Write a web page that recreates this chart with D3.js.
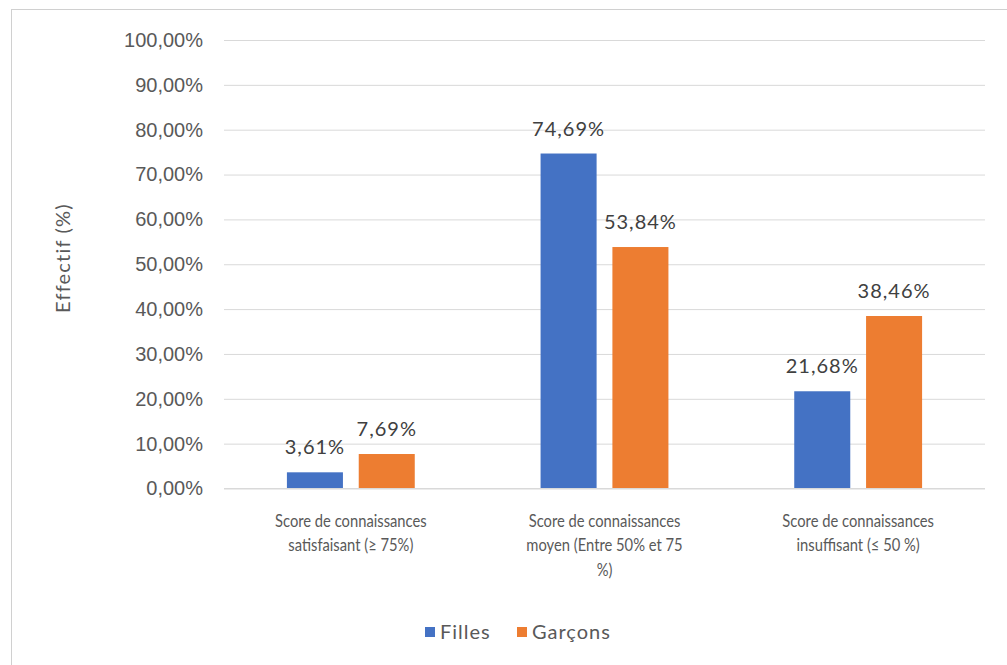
<!DOCTYPE html>
<html lang="fr">
<head>
  <meta charset="UTF-8">
  <title>Score de connaissances</title>
  <script src="https://cdn.jsdelivr.net/npm/d3@7"></script>
  <style>
    body { margin: 0; background: #fff; }
    svg { display: block; font-family: Lato, "Open Sans", sans-serif; }
    .tick-label { fill: #595959; font-size: 20px; }
    .cat-label { fill: #595959; font-size: 18px; }
    .value-label { fill: #404040; font-size: 20px; letter-spacing: 1px; }
    .axis-title { fill: #595959; font-size: 20px; letter-spacing: 1.2px; }
    .legend-label { fill: #595959; font-size: 20px; letter-spacing: 1px; }
  </style>
</head>
<body>
  <script>
    // data
    var categories = ["satisfaisant", "moyen", "insuffisant"];
    var categoryLines = [
      ["Score de connaissances", "satisfaisant (≥ 75%)"],
      ["Score de connaissances", "moyen (Entre 50% et 75", "%)"],
      ["Score de connaissances", "insuffisant (≤ 50 %)"]
    ];
    var seriesNames = ["Filles", "Garçons"];
    var filles = [3.61, 74.69, 21.68];
    var garcons = [7.69, 53.84, 38.46];
    var yTicks = [0, 10, 20, 30, 40, 50, 60, 70, 80, 90, 100];
    var colors = ["#4472C4", "#ED7D31"];

    var fmt = function(v) { return d3.format(".2f")(v).replace(".", ",") + "%"; };

    var width = 1007, height = 665;
    var svg = d3.select("body").append("svg")
      .attr("width", width)
      .attr("height", height);

    // chart frame
    svg.append("rect")
      .attr("x", 11.5).attr("y", 9.5)
      .attr("width", 1010).attr("height", 670)
      .attr("fill", "#fff")
      .attr("stroke", "#d0d0d0");

    /* SCALES */
    var x = d3.scaleBand()
      .domain(categories)
      .range([224, 985])
      .paddingInner(0.496)
      .paddingOuter(0.248);

    var xSub = d3.scaleBand()
      .domain(seriesNames)
      .range([0, x.bandwidth()])
      .paddingInner(0.22);

    var y = d3.scaleLinear()
      .domain([0, 100])
      .range([488.5, 40]);

    // gridlines + y labels
    var yAxis = d3.axisLeft(y)
      .tickValues(yTicks)
      .tickSize(-(985 - 224))
      .tickPadding(21)
      .tickFormat(fmt);

    var gy = svg.append("g")
      .attr("transform", "translate(224,0)")
      .call(yAxis);
    gy.select(".domain").remove();
    gy.selectAll(".tick line").attr("stroke", "#d9d9d9");
    gy.selectAll(".tick text")
      .attr("class", "tick-label")
      .attr("font-family", null)
      .attr("font-size", null);

    /* BARS */
    var rows = categories.map(function(c, i) {
      return { cat: c, values: [filles[i], garcons[i]] };
    });

    var groups = svg.selectAll(".grp")
      .data(rows)
      .enter().append("g")
      .attr("class", "grp")
      .attr("transform", function(d) { return "translate(" + x(d.cat) + ",0)"; });

    groups.selectAll("rect")
      .data(function(d) { return d.values.map(function(v, j) { return { s: seriesNames[j], v: v, j: j }; }); })
      .enter().append("rect")
      .attr("x", function(d) { return xSub(d.s); })
      .attr("y", function(d) { return y(d.v); })
      .attr("width", xSub.bandwidth())
      .attr("height", function(d) { return y(0) - y(d.v); })
      .attr("fill", function(d) { return colors[d.j]; });

    groups.selectAll(".value-label")
      .data(function(d) { return d.values.map(function(v, j) { return { s: seriesNames[j], v: v }; }); })
      .enter().append("text")
      .attr("class", "value-label")
      .attr("text-anchor", "middle")
      .attr("x", function(d) { return xSub(d.s) + xSub.bandwidth() / 2; })
      .attr("y", function(d) { return y(d.v) - 18; })
      .text(function(d) { return fmt(d.v); });

    // x axis line
    svg.append("line")
      .attr("x1", 224).attr("x2", 985)
      .attr("y1", y(0)).attr("y2", y(0))
      .attr("stroke", "#d9d9d9");

    // category labels (squeezed horizontally, like the narrow original font)
    var cl = svg.selectAll(".cat-label")
      .data(categories)
      .enter().append("text")
      .attr("class", "cat-label")
      .attr("text-anchor", "middle")
      .attr("transform", function(c) { return "translate(" + (x(c) + x.bandwidth() / 2) + ",527) scale(0.82,1)"; });
    cl.each(function(c, i) {
      var t = d3.select(this);
      categoryLines[i].forEach(function(line, k) {
        t.append("tspan")
          .attr("x", 0)
          .attr("y", k * 24.5)
          .text(line);
      });
    });

    // y title
    svg.append("text")
      .attr("class", "axis-title")
      .attr("text-anchor", "middle")
      .attr("transform", "translate(70,258) rotate(-90)")
      .text("Effectif (%)");

    // legend
    var legendX = [425, 517];
    var lg = svg.selectAll(".legend")
      .data(seriesNames)
      .enter().append("g")
      .attr("transform", function(d, i) { return "translate(" + legendX[i] + ",632)"; });
    lg.append("rect")
      .attr("x", 0).attr("y", -5)
      .attr("width", 10).attr("height", 10)
      .attr("fill", function(d, i) { return colors[i]; });
    lg.append("text")
      .attr("class", "legend-label")
      .attr("x", 15).attr("y", 7)
      .text(function(d) { return d; });
  </script>
</body>
</html>
